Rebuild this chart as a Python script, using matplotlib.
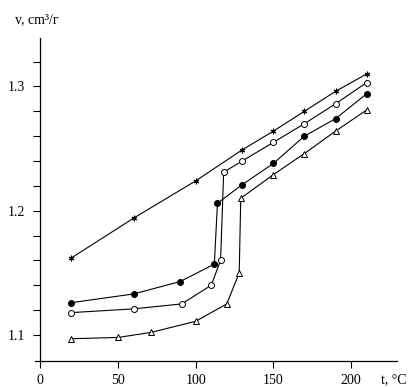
import matplotlib
matplotlib.use("Agg")
import matplotlib.pyplot as plt
from matplotlib.ticker import FixedLocator

plt.rcParams['font.family'] = ['Liberation Serif', 'DejaVu Serif']

# asterisk series
t_star = [20, 60, 100, 130, 150, 170, 190, 210]
v_star = [1.162, 1.194, 1.224, 1.249, 1.264, 1.280, 1.296, 1.310]

# open circles
t_open = [20, 60, 91, 110, 116, 118, 130, 150, 170, 190, 210]
v_open = [1.118, 1.121, 1.125, 1.140, 1.160, 1.231, 1.240, 1.255, 1.270, 1.286, 1.303]

# filled circles
t_fill = [20, 60, 90, 112, 114, 130, 150, 170, 190, 210]
v_fill = [1.126, 1.133, 1.143, 1.157, 1.206, 1.221, 1.238, 1.260, 1.274, 1.294]

# triangles
t_tri = [20, 50, 71, 100, 120, 128, 129, 150, 170, 190, 210]
v_tri = [1.097, 1.098, 1.102, 1.111, 1.125, 1.150, 1.210, 1.229, 1.246, 1.264, 1.281]

fig = plt.figure(figsize=(4.16, 3.87), dpi=100)
ax = fig.add_axes([0.084, 0.067, 0.87, 0.835])

lw = 0.8
ax.plot(t_star, v_star, color='black', lw=lw, marker=(6, 2, 0), ms=4, mew=0.8)
ax.plot(t_open, v_open, color='black', lw=lw, marker='o', ms=4.3, mfc='white', mew=0.7)
ax.plot(t_fill, v_fill, color='black', lw=lw, marker='o', ms=4.3, mfc='black', mew=0.7)
ax.plot(t_tri, v_tri, color='black', lw=lw, marker='^', ms=5, mfc='white', mew=0.7)

ax.set_xlim(-3.5, 229.5)
ax.set_ylim(1.079, 1.339)
ax.spines['left'].set_position(('data', 0))
ax.spines['top'].set_visible(False)
ax.spines['right'].set_visible(False)
for s in ('left', 'bottom'):
    ax.spines[s].set_linewidth(0.9)

ax.set_xticks([0, 50, 100, 150, 200])
ax.set_xticklabels(['0', '50', '100', '150', '200'])
ax.yaxis.set_major_locator(FixedLocator([1.1, 1.2, 1.3]))
ax.yaxis.set_minor_locator(FixedLocator([1.12, 1.14, 1.16, 1.18, 1.22, 1.24, 1.26, 1.28, 1.32]))
ax.set_yticklabels(['1.1', '1.2', '1.3'])
ax.tick_params(axis='both', which='both', direction='out', length=5, width=0.8, labelsize=10, color='black')
ax.tick_params(axis='x', pad=4)
ax.tick_params(axis='y', pad=6)

fig.text(0.036, 0.950, 'v, cm³/г', fontsize=10, va='center', ha='left')
fig.text(0.916, 0.018, 't, °C', fontsize=10, va='center', ha='left')

fig.savefig('out.png', dpi=100)
